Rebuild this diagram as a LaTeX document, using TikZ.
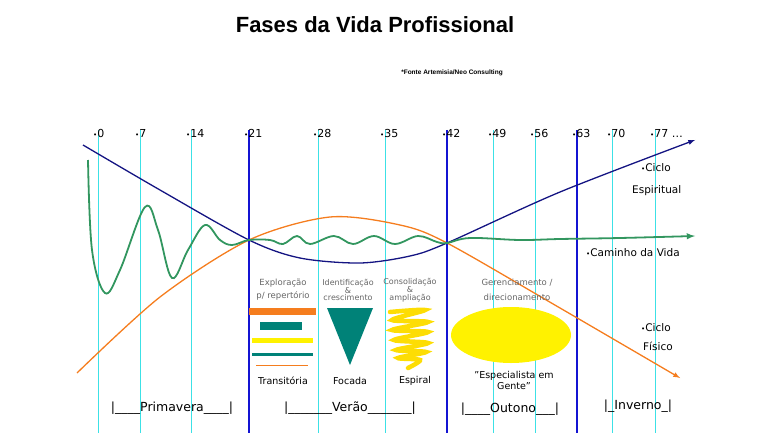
\documentclass[tikz,border=0pt]{standalone}
\usepackage{fontspec}
\setmainfont{DejaVu Sans}
\newfontfamily\arialf{Liberation Sans}
\definecolor{vcyan}{RGB}{60,225,230}
\definecolor{vblue}{RGB}{20,20,210}
\definecolor{dblue}{RGB}{20,20,130}
\definecolor{lgreen}{RGB}{50,150,95}
\definecolor{corange}{RGB}{245,125,30}
\definecolor{cteal}{RGB}{0,130,120}
\begin{document}
\begin{tikzpicture}[x=1pt,y=-1pt,
 vc/.style={vcyan,line width=0.9pt},
 vb/.style={vblue,line width=1.1pt},
 tk/.style={font=\fontsize{11}{12}\selectfont,anchor=west,inner sep=0},
 sm/.style={font=\fontsize{8.5}{9}\selectfont,text=black!60,align=center,inner sep=0},
 lb/.style={font=\fontsize{9.5}{11}\selectfont,inner sep=0,align=center},
 bt/.style={font=\fontsize{12.5}{14}\selectfont,inner sep=0},
 rl/.style={font=\fontsize{10.5}{12}\selectfont,anchor=west,inner sep=0}]
\useasboundingbox (0,0) rectangle (768,433);
\node[font=\arialf\bfseries\fontsize{22}{26}\selectfont] (title) at (375,25) {Fases da Vida Profissional};
\node[font=\arialf\bfseries\fontsize{6.5}{7}\selectfont] (src) at (452,73) {*Fonte Artemisia/Neo Consulting};
\foreach \x in {98,140,191,318,385,493,535,612,655} \draw[vc] (\x,130) -- (\x,433);
\foreach \x in {249,447,577} \draw[vb] (\x,130) -- (\x,433);
\foreach \x/\t [count=\i] in {93/0,135/7,186/14,244/21,313/28,380/35,442/42,488/49,530/56,572/63,607/70,650/{77 \ldots}}
  \node[tk] (t\i) at (\x,133) {\fontsize{7}{8}\selectfont•\fontsize{11}{12}\selectfont\t};
% curves
\draw[corange,line width=1.3pt,-latex] plot[smooth] coordinates {(77,373) (160,297) (249,240) (330,217) (400,225) (447,243) (560,308) (680,378)};
\draw[dblue,line width=1.3pt,-latex] plot[smooth] coordinates {(83,145) (160,190) (249,240) (300,258) (360,263) (410,256) (447,243) (560,192) (695,140)};
\draw[lgreen,line width=1.8pt,-latex] plot[smooth,tension=0.6] coordinates {(88,160) (92,250) (105,293) (120,270) (145,207) (158,230) (172,278) (188,250) (205,225) (220,240) (232,245) (249,240) (270,240) (283,244) (297,236) (310,244) (334,236) (353,244) (374,236) (395,244) (418,236) (437,242) (447,243) (470,238) (520,240) (560,239) (620,238) (695,236)};
% stage captions
\node[sm] (c1) at (283,290) {Exploração\\[4pt]p/ repertório};
\node[sm,font=\fontsize{8}{6}\selectfont] (c2) at (348,290) {Identificação\\\&\\crescimento};
\node[sm,font=\fontsize{8}{6}\selectfont] (c3) at (410,290) {Consolidação\\\&\\ampliação};
\node[sm] (c4) at (517,290) {Gerenciamento /\\[6pt]direcionamento};
% shapes
\fill[corange] (249,308) rectangle (316,315);
\fill[cteal] (260,322) rectangle (302,330);
\fill[yellow] (252,338) rectangle (313,343);
\fill[cteal] (252,353) rectangle (313,356);
\draw[corange,line width=1pt] (256,365) -- (308,365);
\fill[cteal] (327,308) -- (373,308) -- (350,365) -- cycle;
\draw[yellow!80!orange,line width=4.5pt,line cap=round] plot[smooth] coordinates {(390,312) (425,310) (392,320) (428,322) (392,330) (428,332) (394,340) (428,343) (396,350) (426,352) (398,358) (420,360) (408,368)};
\fill[yellow] (511,335) ellipse (60 and 28);
% labels
\node[lb] (l1) at (283,381) {Transitória};
\node[lb] (l2) at (350,381) {Focada};
\node[lb] (l3) at (415,381) {Espiral};
\node[lb] (l4) at (514,380) {"Especialista em\\Gente"};
\node[bt] (b1) at (172,408) {|\_\_\_\_Primavera\_\_\_\_|};
\node[bt] (b2) at (350,408) {|\_\_\_\_\_\_\_Verão\_\_\_\_\_\_\_|};
\node[bt] (b3) at (510,409) {|\_\_\_\_Outono\_\_\_|};
\node[bt] (b4) at (638,406) {|\_Inverno\_|};
\node[rl] (r1) at (641,168) {\fontsize{7}{8}\selectfont•\fontsize{10.5}{12}\selectfont Ciclo};
\node[rl] (r2) at (632,191) {Espiritual};
\node[rl] (r3) at (586,253) {\fontsize{7}{8}\selectfont•\fontsize{10.5}{12}\selectfont Caminho da Vida};
\node[rl] (r4) at (641,328) {\fontsize{7}{8}\selectfont•\fontsize{10.5}{12}\selectfont Ciclo};
\node[rl] (r5) at (643,346) {Físico};
\end{tikzpicture}
\end{document}
